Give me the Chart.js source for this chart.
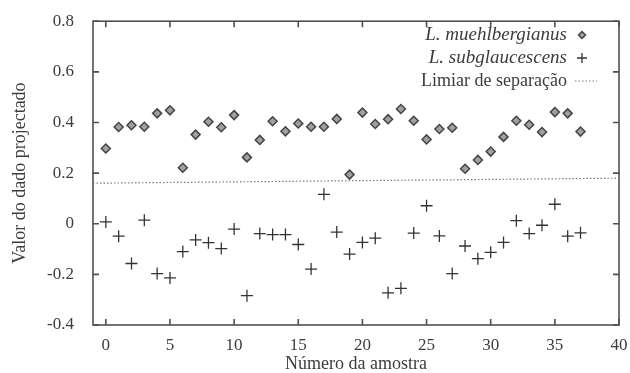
<!DOCTYPE html>
<html><head><meta charset="utf-8">
<script src="https://cdn.jsdelivr.net/npm/chart.js@4/dist/chart.umd.min.js"></script>
<style>html,body{margin:0;padding:0;background:#fff;}</style>
</head><body>
<canvas id="c" width="630" height="373"></canvas>
<script>
const sampleNumbers = [0,1,2,3,4,5,6,7,8,9,10,11,12,13,14,15,16,17,18,19,20,21,22,23,24,25,26,27,28,29,30,31,32,33,34,35,36,37];
const muehlbergianus = [0.297,0.382,0.389,0.383,0.436,0.448,0.221,0.352,0.403,0.381,0.429,0.262,0.331,0.405,0.365,0.396,0.383,0.383,0.414,0.194,0.439,0.394,0.413,0.453,0.407,0.333,0.374,0.379,0.217,0.252,0.285,0.343,0.407,0.391,0.362,0.441,0.436,0.364];
const subglaucescens = [0.007,-0.049,-0.157,0.014,-0.197,-0.214,-0.110,-0.064,-0.075,-0.098,-0.021,-0.284,-0.039,-0.043,-0.043,-0.082,-0.179,0.116,-0.033,-0.120,-0.074,-0.057,-0.273,-0.255,-0.037,0.071,-0.048,-0.197,-0.088,-0.138,-0.113,-0.074,0.012,-0.039,-0.006,0.077,-0.049,-0.036];
const thresholdX = [-1, 40];
const thresholdY = [0.16, 0.18];
const xTicks = [0,5,10,15,20,25,30,35,40];
const yTicks = [-0.4,-0.2,0,0.2,0.4,0.6,0.8];
const seriesLabels = ['L. muehlbergianus','L. subglaucescens','Limiar de separação'];
const xTitle = 'Número da amostra';
const yTitle = 'Valor do dado projectado';

const TXT = '#3c3c3c';
const SERIF = '"Liberation Serif", "DejaVu Serif", serif';

const framePlugin = {
  id: 'frame',
  beforeDatasetsDraw(chart) {
    const {ctx, chartArea: a, scales: {x, y}} = chart;
    ctx.save();
    ctx.strokeStyle = '#505050';
    ctx.lineWidth = 1.6;
    ctx.strokeRect(a.left, a.top, a.right - a.left, a.bottom - a.top);
    ctx.beginPath();
    const L = 6;
    xTicks.forEach(v => {
      const p = x.getPixelForValue(v);
      ctx.moveTo(p, a.bottom); ctx.lineTo(p, a.bottom - L);
      ctx.moveTo(p, a.top); ctx.lineTo(p, a.top + L);
    });
    yTicks.forEach(v => {
      const p = y.getPixelForValue(v);
      ctx.moveTo(a.left, p); ctx.lineTo(a.left + L, p);
      ctx.moveTo(a.right, p); ctx.lineTo(a.right - L, p);
    });
    ctx.stroke();
    ctx.restore();
  }
};

const keyPlugin = {
  id: 'key',
  afterDatasetsDraw(chart, args, opts) {
    const ctx = chart.ctx;
    ctx.save();
    ctx.textAlign = 'right';
    ctx.textBaseline = 'middle';
    ctx.fillStyle = TXT;
    chart.data.datasets.forEach((ds, i) => {
      const yy = opts.rows[i];
      ctx.font = ds.keyItalic ? ('italic ' + opts.italicSize + 'px ' + SERIF) : (opts.fontSize + 'px ' + SERIF);
      ctx.fillText(ds.label, opts.textRight, yy);
      if (ds.showLine) {
        ctx.save();
        ctx.strokeStyle = ds.borderColor;
        ctx.lineWidth = ds.borderWidth;
        ctx.setLineDash(ds.borderDash);
        ctx.beginPath();
        ctx.moveTo(opts.sampleLeft, yy); ctx.lineTo(opts.sampleRight, yy);
        ctx.stroke();
        ctx.restore();
      } else {
        ctx.save();
        ctx.fillStyle = ds.backgroundColor;
        ctx.strokeStyle = ds.borderColor;
        ctx.lineWidth = ds.borderWidth;
        Chart.helpers.drawPoint(ctx, {pointStyle: ds.pointStyle, radius: opts.symbolRadius[i], borderWidth: ds.borderWidth, rotation: 0}, opts.symbolX, yy);
        ctx.restore();
      }
    });
    ctx.restore();
  }
};

new Chart(document.getElementById('c'), {
  type: 'scatter',
  data: {
    datasets: [
      {
        label: seriesLabels[0], keyItalic: true,
        data: sampleNumbers.map((n, i) => ({x: n, y: muehlbergianus[i]})),
        pointStyle: 'rectRot', pointRadius: 4.5, pointHoverRadius: 4.5,
        backgroundColor: '#a0a0a0', borderColor: '#444444', borderWidth: 1.5
      },
      {
        label: seriesLabels[1], keyItalic: true,
        data: sampleNumbers.map((n, i) => ({x: n, y: subglaucescens[i]})),
        pointStyle: 'cross', pointRadius: 6, pointHoverRadius: 6,
        backgroundColor: '#333333', borderColor: '#333333', borderWidth: 1.3
      },
      {
        label: seriesLabels[2], keyItalic: false, type: 'line', showLine: true,
        data: thresholdX.map((v, i) => ({x: v, y: thresholdY[i]})),
        pointRadius: 0, borderColor: '#7a7a7a', borderWidth: 1.2, borderDash: [1.5, 2],
        fill: false
      }
    ]
  },
  options: {
    responsive: false,
    animation: false,
    events: [],
    layout: {padding: {left: 0, right: 11, top: 15, bottom: 0}},
    plugins: {
      legend: {display: false},
      tooltip: {enabled: false},
      key: {rows: [35, 58, 81], textRight: 567, symbolX: 582, symbolRadius: [3.5, 5], sampleLeft: 575, sampleRight: 597, fontSize: 18, italicSize: 19}
    },
    scales: {
      x: {
        type: 'linear', min: -1, max: 40,
        afterBuildTicks: s => { s.ticks = xTicks.map(v => ({value: v})); },
        afterFit: s => { s.height = 48; },
        grid: {display: false}, border: {display: false},
        ticks: {color: TXT, font: {family: SERIF, size: 17}, padding: 2, maxRotation: 0},
        title: {display: true, text: xTitle, color: TXT, font: {family: SERIF, size: 18, lineHeight: 1}, padding: {top: 0, bottom: 0}}
      },
      y: {
        type: 'linear', min: -0.4, max: 0.8,
        afterBuildTicks: s => { s.ticks = yTicks.map(v => ({value: v})); },
        afterFit: s => { s.width = 93; },
        grid: {display: false}, border: {display: false},
        ticks: {color: TXT, font: {family: SERIF, size: 17}, padding: 11, callback: v => String(Math.round(v * 10) / 10)},
        title: {display: true, text: yTitle, color: TXT, font: {family: SERIF, size: 18}, padding: {top: 9, bottom: 0}}
      }
    }
  },
  plugins: [framePlugin, keyPlugin]
});
</script>
</body></html>
